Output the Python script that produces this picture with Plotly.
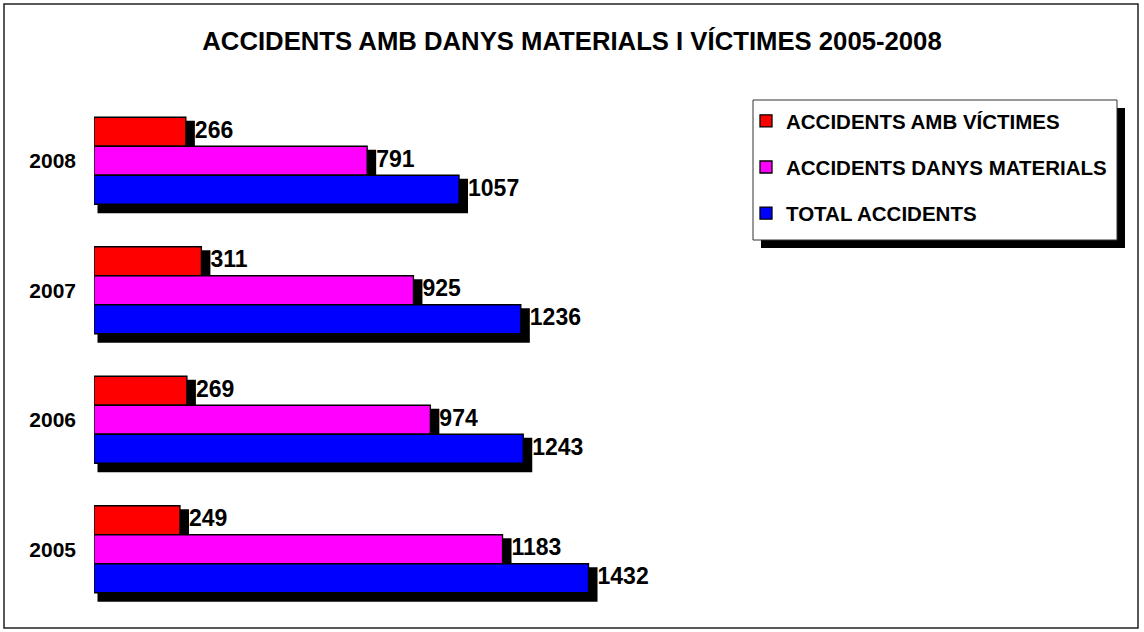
import plotly.graph_objects as go

# ---- data ----
years = ["2005", "2006", "2007", "2008"]
victimes = [249, 269, 311, 266]
danys_materials = [1183, 974, 925, 791]
total_accidents = [1432, 1243, 1236, 1057]
series_names = ["ACCIDENTS AMB VÍCTIMES", "ACCIDENTS DANYS MATERIALS", "TOTAL ACCIDENTS"]
series_colors = ["#FF0000", "#FF00FF", "#0000FF"]
title_text = "ACCIDENTS AMB DANYS MATERIALS I VÍCTIMES 2005-2008"

# ---- geometry (pixels) ----
W, H = 1144, 632
L, R, T, B = 94, 14, 96, 18
PW, PH = W - L - R, H - T - B
XMAX = 3000
YMIN, YMAX = -0.5, 3.5
px_x = PW / XMAX
px_y = PH / (YMAX - YMIN)

bar_w = 29 / px_y
sh_dx = 9 / px_x        # shadow extends this far beyond bar end
sh_left = 3.5 / px_x    # shadow starts this far right of bar start
sh_dy = 6.25 / px_y
sh_w = 34.5 / px_y

FONT = "Liberation Sans, Arial, sans-serif"

series = [victimes, danys_materials, total_accidents]
offsets = [bar_w, 0.0, -bar_w]  # red top, magenta middle, blue bottom
idx = list(range(len(years)))

fig = go.Figure()

# shadows first
for vals, off in zip(series, offsets):
    fig.add_trace(go.Bar(
        x=[v + sh_dx - sh_left for v in vals], y=[i + off - sh_dy for i in idx],
        base=sh_left, orientation="h",
        width=sh_w, marker=dict(color="black", line=dict(width=0)),
        showlegend=False, hoverinfo="skip"))

# main bars
for name, vals, off, col in zip(series_names, series, offsets, series_colors):
    fig.add_trace(go.Bar(
        x=vals, y=[i + off for i in idx], base=0, orientation="h", name=name,
        width=bar_w, legendgroup=name,
        marker=dict(color=col, line=dict(color="black", width=1.3))))

# value labels
for vals, off in zip(series, offsets):
    fig.add_trace(go.Scatter(
        x=[v + sh_dx for v in vals], y=[i + off for i in idx], mode="text",
        text=[str(v) for v in vals], textposition="middle right",
        textfont=dict(family=FONT, size=23, color="black", weight="bold"),
        showlegend=False, hoverinfo="skip", cliponaxis=False))

def paper_x(px):
    return (px - L) / PW

def paper_y(py):
    return (H - B - py) / PH

shapes = [
    # outer border
    dict(type="rect", xref="paper", yref="paper", x0=paper_x(4), x1=paper_x(1138),
         y0=paper_y(628), y1=paper_y(4), line=dict(color="#222222", width=1.5), layer="below"),
    # legend shadow
    dict(type="rect", xref="paper", yref="paper", x0=paper_x(761), x1=paper_x(1125),
         y0=paper_y(248), y1=paper_y(108), fillcolor="black", line=dict(width=0), layer="above"),
    # legend box
    dict(type="rect", xref="paper", yref="paper", x0=paper_x(753), x1=paper_x(1117),
         y0=paper_y(240), y1=paper_y(100), fillcolor="white",
         line=dict(color="#333333", width=1), layer="above"),
]

fig.update_layout(
    width=W, height=H,
    margin=dict(l=L, r=R, t=T, b=B),
    paper_bgcolor="white", plot_bgcolor="white",
    barmode="overlay",
    title=dict(text=title_text, x=0.5, xref="container", xanchor="center",
               y=1 - 41 / H, yref="container", yanchor="middle",
               font=dict(family=FONT, size=25.7, color="black", weight="bold")),
    xaxis=dict(range=[0, XMAX], visible=False, fixedrange=True),
    yaxis=dict(range=[YMIN, YMAX], tickvals=idx, ticktext=years, showgrid=False,
               zeroline=False, showline=False, ticks="", ticklabelstandoff=17,
               tickfont=dict(family=FONT, size=21, color="black", weight="bold"),
               fixedrange=True),
    legend=dict(x=paper_x(746), y=paper_y(101), xanchor="left", yanchor="top",
                bgcolor="rgba(0,0,0,0)", borderwidth=0, tracegroupgap=16.5,
                traceorder="grouped",
                font=dict(family=FONT, size=20.5, color="black", weight="bold")),
    shapes=shapes,
)

fig.write_html("out.html", config={"displayModeBar": False},
               post_script="document.body.style.margin='0';")
